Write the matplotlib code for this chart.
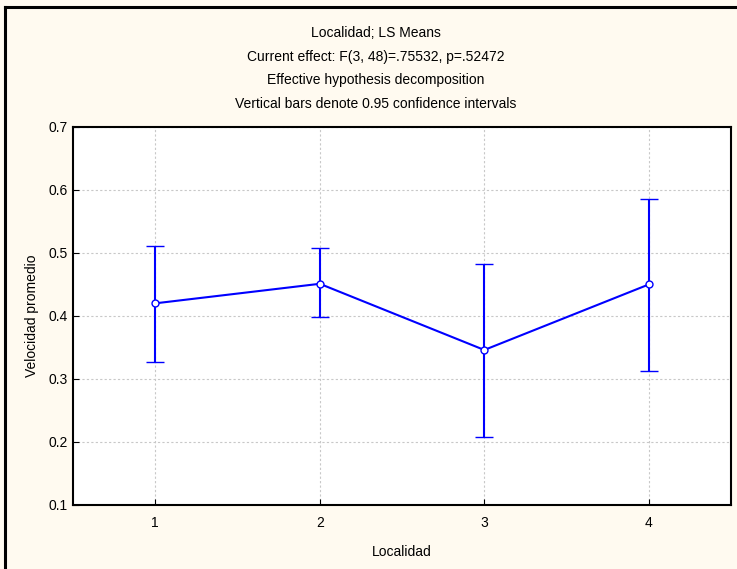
import matplotlib
matplotlib.use("Agg")
import matplotlib.pyplot as plt
from matplotlib.lines import Line2D

plt.rcParams['font.family'] = ['Liberation Sans', 'DejaVu Sans']

# LS means per locality with 0.95 confidence limits
localidad = [1, 2, 3, 4]
media = [0.420, 0.451, 0.346, 0.450]
ic_inf = [0.327, 0.398, 0.208, 0.312]
ic_sup = [0.511, 0.508, 0.482, 0.585]
yticks = [0.1, 0.2, 0.3, 0.4, 0.5, 0.6, 0.7]

titulo = ["Localidad; LS Means",
          "Current effect: F(3, 48)=.75532, p=.52472",
          "Effective hypothesis decomposition",
          "Vertical bars denote 0.95 confidence intervals"]

err_lo = [m - lo for m, lo in zip(media, ic_inf)]
err_hi = [hi - m for m, hi in zip(media, ic_sup)]

fig = plt.figure(figsize=(7.37, 5.69), dpi=100, facecolor='#FFFAF0')
# only the top and left window edges are visible in the crop
fig.lines.append(Line2D([0.0064, 1.0], [0.9877, 0.9877], transform=fig.transFigure,
                        color='black', linewidth=2.2))
fig.lines.append(Line2D([0.0064, 0.0064], [0.0, 0.9877], transform=fig.transFigure,
                        color='black', linewidth=2.2))

ax = fig.add_axes([0.099, 0.1125, 0.893, 0.6645])
ax.set_facecolor('white')
ax.errorbar(localidad, media, yerr=[err_lo, err_hi], color='#0000FF', linewidth=1.5,
            elinewidth=1.5, capsize=6.5, capthick=1.5, marker='o', markersize=5,
            markerfacecolor='white', markeredgecolor='#0000FF', markeredgewidth=1)

ax.set_xlim(0.5, 4.5)
ax.set_ylim(0.1, 0.7)
ax.set_xticks(localidad)
ax.set_yticks(yticks)
ax.set_yticklabels([f"{v:.1f}" for v in yticks])
ax.grid(True, linestyle=(0, (2, 2)), color='#C8C8C8', linewidth=0.8)
ax.set_axisbelow(True)
ax.tick_params(direction='in', length=4, labelsize=10)
ax.tick_params(axis='x', pad=8)
ax.tick_params(axis='y', pad=3.5)
for s in ax.spines.values():
    s.set_linewidth(1.5)

ax.set_xlabel("Localidad", fontsize=10, labelpad=11)
ax.set_ylabel("Velocidad promedio", fontsize=10, labelpad=7)

ys = [0.9344, 0.8932, 0.8519, 0.8107]
for t, y in zip(titulo, ys):
    fig.text(0.510, y, t, ha='center', va='baseline', fontsize=10)

fig.savefig("out.png", dpi=100, facecolor=fig.get_facecolor())
